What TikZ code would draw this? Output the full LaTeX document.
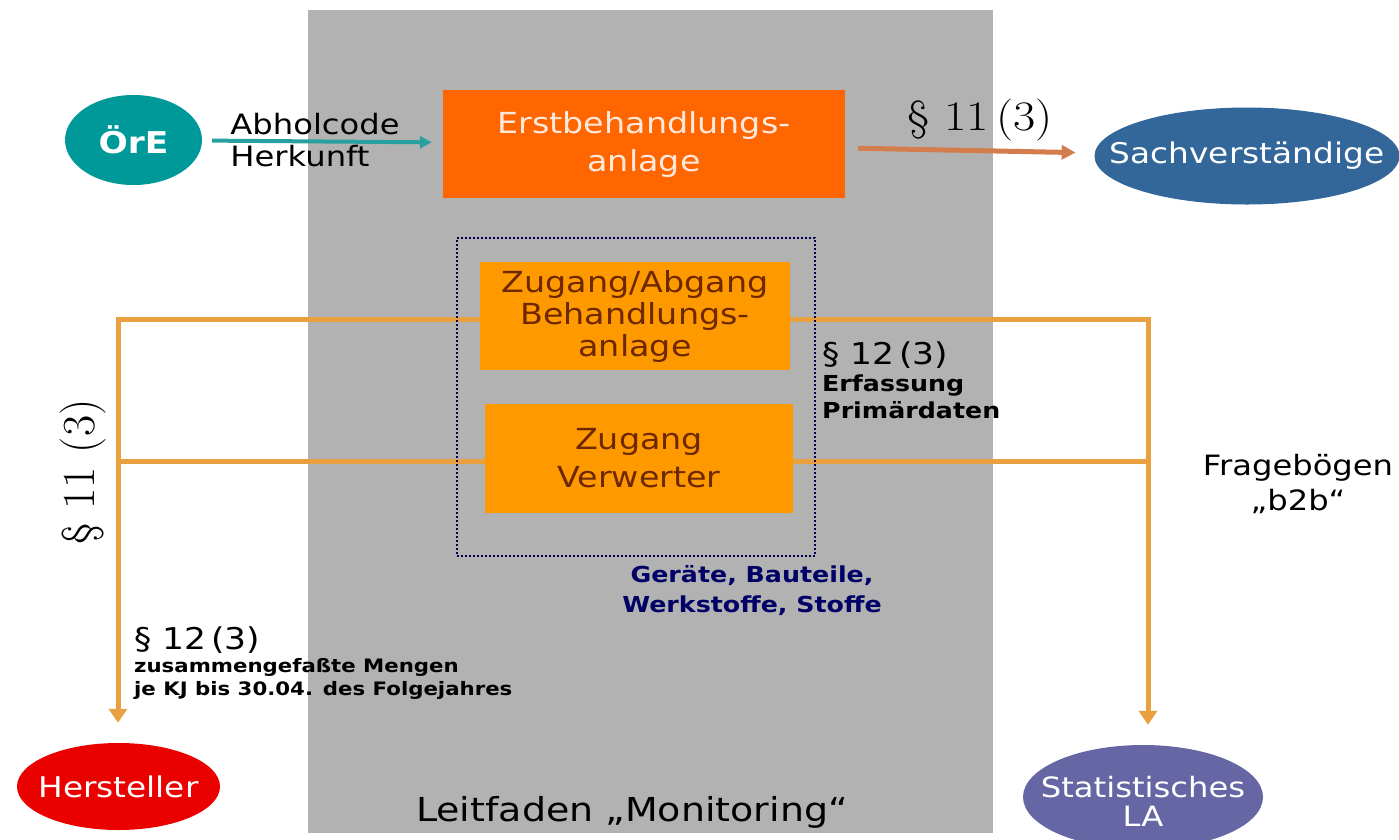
\documentclass[tikz,border=0pt]{standalone}
\usepackage{fontspec}
\usepackage{graphicx}
\newfontfamily\vsans[FakeStretch=1.15]{DejaVu Sans}
\usetikzlibrary{shapes.geometric,arrows.meta}
\newcommand\setfs[2]{\fontsize{#1}{#2}\selectfont}
\newcommand\wide[1]{\scalebox{1.15}[1]{#1}}
\definecolor{panelgray}{RGB}{178,178,178}
\definecolor{oretea}{RGB}{0,153,153}
\definecolor{arrtea}{RGB}{40,160,160}
\definecolor{orangeA}{RGB}{255,102,0}
\definecolor{orangeB}{RGB}{255,153,0}
\definecolor{flowline}{RGB}{232,160,64}
\definecolor{brownarr}{RGB}{210,125,75}
\definecolor{sachblue}{RGB}{51,102,153}
\definecolor{herred}{RGB}{235,0,0}
\definecolor{statviolet}{RGB}{102,102,165}
\definecolor{navytext}{RGB}{0,0,102}
\definecolor{boxtext}{RGB}{110,40,0}
\definecolor{erstext}{RGB}{255,232,220}
\pgfdeclarelayer{back}
\pgfdeclarelayer{mid}
\pgfsetlayers{back,mid,main}
\tikzset{
  oval/.style={ellipse, inner sep=0pt},
  ovaltext/.style={text=white, align=center, inner sep=0pt},
  stepbox/.style={inner sep=0pt, align=center, font=\vsans\setfs{29}{32}, text=boxtext, fill=orangeB},
  flow/.style={draw=flowline, line width=5pt},
  flowarrow/.style={flow, -{Triangle[length=14pt,width=18pt]}},
  lbl/.style={inner sep=0pt, align=left, text=black},
}
\begin{document}
\begin{tikzpicture}[x=1pt,y=-1pt]
\useasboundingbox (0,0) rectangle (1399,839);
% monitoring panel
\begin{pgfonlayer}{back}
\node[fill=panelgray, minimum width=685pt, minimum height=823pt, inner sep=0pt] (panel) at (650.5,421.5) {};
\end{pgfonlayer}

% outer parties
\node[oval, fill=oretea, minimum width=137pt, minimum height=90pt,
  label={[ovaltext, font=\vsans\bfseries\setfs{30}{34}]center:ÖrE}] (ore) at (133.5,140) {};
\node[oval, fill=sachblue, minimum width=305pt, minimum height=97pt,
  label={[ovaltext, font=\vsans\setfs{28.5}{32}]center:Sachverständige}] (sach) at (1247,156) {};
\node[oval, fill=herred, minimum width=203pt, minimum height=87pt,
  label={[ovaltext, font=\vsans\setfs{28.5}{30}]center:Hersteller}] (her) at (118.5,786.5) {};
\node[oval, fill=statviolet, minimum width=240pt, minimum height=104pt,
  label={[ovaltext, yshift=-4pt, font=\vsans\setfs{28}{29}]center:Statistisches\\LA}] (stat) at (1143,797) {};

% treatment plant
\node[fill=orangeA, minimum width=402pt, minimum height=108pt, inner sep=0pt, align=center,
  text=erstext, font=\vsans\setfs{29}{38}] (erst) at (644,144) {Erstbehandlungs-\\anlage};

% recording units
\node[stepbox, minimum width=310pt, minimum height=108pt] (za) at (635,316) {Zugang/Abgang\\Behandlungs-\\anlage};
\node[stepbox, minimum width=308pt, minimum height=109pt, font=\vsans\setfs{29}{38}] (zv) at (639,458) {Zugang\\Verwerter};

% reporting lines to the manufacturers and the statistics office
\coordinate (lcol) at (118,319);
\coordinate (rcol) at (1148,319);
\coordinate (lrow) at (118,461);
\coordinate (rrow) at (1148,461);
\begin{pgfonlayer}{mid}
\draw[flowarrow, shorten >=20pt] (za.west |- lcol) -- (lcol) -- (lcol |- her.north);
\draw[flowarrow, shorten >=20pt] (za.east |- rcol) -- (rcol) -- (rcol |- stat.north);
\draw[flow] (zv.west |- lrow) -- (lrow);
\draw[flow] (zv.east |- rrow) -- (rrow);
\end{pgfonlayer}

% data capture group
\node[draw=navytext!80!black, dotted, line width=2pt, minimum width=358pt, minimum height=318pt, inner sep=0pt] (grp) at (636,397) {};

% top arrows
\draw[draw=arrtea, line width=4pt, -{Triangle[length=12pt,width=12pt]}, shorten <=10pt, shorten >=11pt] (ore) -- (erst);
\draw[draw=brownarr, line width=5pt, -{Triangle[length=14pt,width=14pt]}, shorten <=13pt, shorten >=19pt] (erst) -- (sach);

% labels
\node[lbl, font=\vsans\setfs{28}{32}] (abh) at (315,140) {Abholcode\\Herkunft};
\node[lbl, font=\setfs{42}{46}] (p11top) at (980,120) {\wide{\S\ 11\,(3)}};
\node[lbl, anchor=north west, font=\vsans\bfseries\setfs{22}{27}] (erf) at (822,342) {{\mdseries\setfs{30}{34}\S\ 12\,(3)}\\Erfassung\\Primärdaten};
\node[lbl, align=center, text=navytext, font=\vsans\bfseries\setfs{22}{30}] (ger) at (752,591) {Geräte, Bauteile,\\Werkstoffe, Stoffe};
\node[lbl, anchor=north west, font=\vsans\bfseries\setfs{18.5}{23}] (zus) at (134,627) {{\mdseries\setfs{30}{34}\S\ 12\,(3)}\\zusammengefaßte Mengen\\je KJ bis 30.04. des Folgejahres};
\node[lbl, align=center, font=\vsans\setfs{28}{35}] (frag) at (1298,484) {Fragebögen\\„b2b“};
\node[lbl, rotate=90, font=\setfs{46}{50}] (p11left) at (83,472) {\S\ 11\ (3)};
\node[lbl, font=\vsans\setfs{33}{38}] (leit) at (632,812) {Leitfaden „Monitoring“};
\end{tikzpicture}
\end{document}
